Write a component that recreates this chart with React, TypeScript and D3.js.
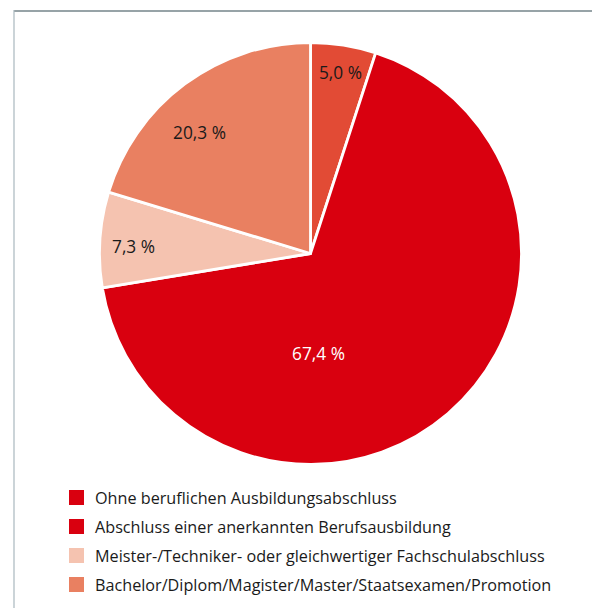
import React from "react";
import * as d3 from "d3";

const categories = [
  "Ohne beruflichen Ausbildungsabschluss",
  "Abschluss einer anerkannten Berufsausbildung",
  "Meister-/Techniker- oder gleichwertiger Fachschulabschluss",
  "Bachelor/Diplom/Magister/Master/Staatsexamen/Promotion",
];
const values = [5.0, 67.4, 7.3, 20.3];
const valueLabels = ["5,0 %", "67,4 %", "7,3 %", "20,3 %"];
const sliceColors = ["#e24b35", "#d9000f", "#f5c3b0", "#e98061"];
const legendColors = ["#d9000f", "#d9000f", "#f5c3b0", "#e98061"];
const labelColors = ["#1a1a1a", "#ffffff", "#1a1a1a", "#1a1a1a"];
// label offsets from pie centre (layout)
const labelOffsets: [number, number][] = [
  [30, -181],
  [8, 100],
  [-177, -7],
  [-111, -121],
];

const W = 593;
const H = 608;
const cx = 310.5;
const cy = 253.5;
const R = 211;
const FONT = "'Open Sans', 'Noto Sans', sans-serif";

export default function App() {
  const pie = d3
    .pie<number>()
    .value((d) => d)
    .sort(null)
    .startAngle(0)
    .endAngle(2 * Math.PI);
  const arcs = pie(values);
  const arc = d3.arc<d3.PieArcDatum<number>>().innerRadius(0).outerRadius(R);

  const legendY = d3
    .scaleBand<number>()
    .domain(d3.range(categories.length))
    .range([490, 490 + 29 * categories.length]);

  return (
    <svg
      width={W}
      height={H}
      style={{ position: "absolute", left: 0, top: 0, background: "#fff" }}
      fontFamily={FONT}
    >
      <line x1={14} y1={11} x2={592} y2={11} stroke="#97a3a7" strokeWidth={2} />
      <line x1={14} y1={10} x2={14} y2={H} stroke="#a9b8be" strokeWidth={1.2} />
      <g transform={`translate(${cx},${cy})`}>
        {arcs.map((a, i) => (
          <path
            key={i}
            d={arc(a) || ""}
            fill={sliceColors[i]}
            stroke="#ffffff"
            strokeWidth={2.8}
            strokeLinejoin="round"
          />
        ))}
        {arcs.map((a, i) => (
          <text
            key={"l" + i}
            x={labelOffsets[i][0]}
            y={labelOffsets[i][1]}
            textAnchor="middle"
            dominantBaseline="central"
            fontSize={17.3}
            fill={labelColors[i]}
          >
            {valueLabels[i]}
          </text>
        ))}
      </g>
      <g>
        {categories.map((c, i) => {
          const y = legendY(i) as number;
          return (
            <g key={c}>
              <rect x={69} y={y} width={15} height={15} fill={legendColors[i]} />
              <text
                x={95}
                y={y + 8}
                dominantBaseline="central"
                fontSize={16.2}
                fill="#1a1a1a"
              >
                {c}
              </text>
            </g>
          );
        })}
      </g>
    </svg>
  );
}
